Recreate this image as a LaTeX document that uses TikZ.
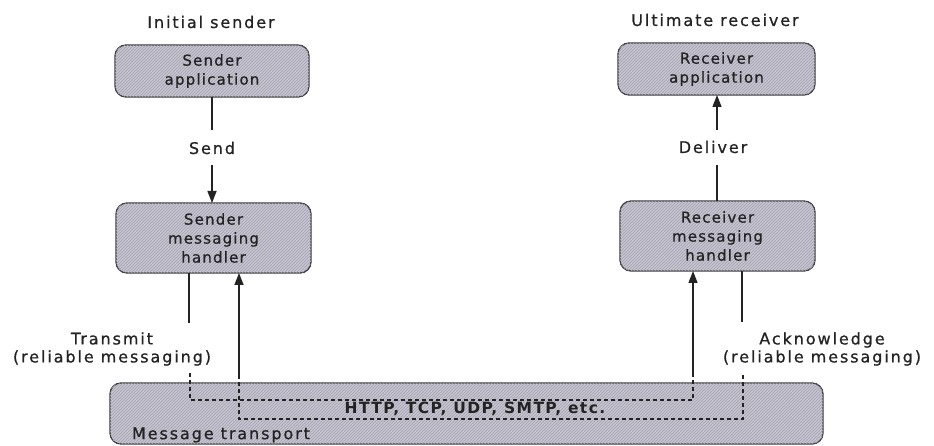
\documentclass[tikz,border=0pt]{standalone}
\usepackage{fontspec}
\setmainfont{DejaVu Sans}[LetterSpace=12, FakeBold=0.8]
\newfontfamily\boxfont{DejaVu Sans}[LetterSpace=8, FakeBold=0.8]
\newfontfamily\protofont{DejaVu Sans Bold}[LetterSpace=9]
\usetikzlibrary{arrows.meta,patterns}
\definecolor{boxfill}{RGB}{198,196,208}
\definecolor{hatch}{RGB}{165,163,175}
\definecolor{edge}{RGB}{60,60,65}
\definecolor{ink}{RGB}{35,35,35}
\begin{document}
\begin{tikzpicture}[x=1pt,y=-1pt,
  every node/.style={text=ink},
  txt/.style={font=\fontsize{16}{18}\selectfont, align=center, inner sep=1pt},
  box/.style={draw=edge, line width=1.3pt, rounded corners=11pt, fill=boxfill,
    postaction={pattern=north east lines, pattern color=hatch},
    font=\boxfont\fontsize{15}{19}\selectfont, align=center, inner sep=0pt},
  conn/.style={draw=ink, line width=1.4pt},
  arr/.style={conn, -{Triangle[length=12pt,width=9pt]}},
  dsh/.style={draw=ink, line width=1.2pt, dash pattern=on 4pt off 3pt}]
\useasboundingbox (0,0) rectangle (934,446);
\fill[white] (0,0) rectangle (934,446);

% boxes
\node[box, minimum width=194pt, minimum height=52pt] (sapp) at (212,71) {Sender\\application};
\node[box, minimum width=197pt, minimum height=52pt] (rapp) at (716.5,69) {Receiver\\application};
\node[box, minimum width=195pt, minimum height=70pt] (shand) at (213.5,238) {Sender\\messaging\\handler};
\node[box, minimum width=195pt, minimum height=70pt] (rhand) at (717.5,236) {Receiver\\messaging\\handler};
\node[box, minimum width=713pt, minimum height=61pt] (trans) at (466.5,413.5) {};

% headings
\node[txt] (ini) at (211,22) {Initial sender};
\node[txt] (ult) at (715,20) {Ultimate receiver};

% Send / Deliver
\coordinate (sendtop) at (212,97);
\coordinate (sendbot) at (212,203);
\draw[conn] (sendtop) -- (212,130);
\draw[arr] (212,165) -- (sendbot);
\node[txt] (send) at (212,148) {Send};

\coordinate (delbot) at (717,201);
\coordinate (deltop) at (717,95);
\draw[conn] (delbot) -- (717,165);
\draw[arr] (717,130) -- (deltop);
\node[txt] (deliver) at (713,147) {Deliver};

% Transmit path
\coordinate (t0) at (189,273);
\coordinate (t1) at (189,323);
\coordinate (t2) at (190,373);
\coordinate (t3) at (190,400);
\coordinate (t4) at (693,400);
\coordinate (t5) at (693,375);
\coordinate (t6) at (693,271);
\draw[conn] (t0) -- (t1);
\draw[dsh] (t2) -- (t3) -- (t4) -- (t5);
\draw[arr] (t5) -- (t6);

% Acknowledge path
\coordinate (a0) at (742,271);
\coordinate (a1) at (742,322);
\coordinate (a2) at (743,375);
\coordinate (a3) at (743,419);
\coordinate (a4) at (239,419);
\coordinate (a5) at (239,377);
\coordinate (a6) at (239,273);
\draw[conn] (a0) -- (a1);
\draw[dsh] (a2) -- (a3) -- (a4) -- (a5);
\draw[arr] (a5) -- (a6);

% labels
\node[txt] (tlab) at (112,349) {Transmit\\(reliable messaging)};
\node[txt] (alab) at (822,349) {Acknowledge\\(reliable messaging)};
\node[txt, font=\protofont\fontsize{15.5}{18}\selectfont] (proto) at (475,409) {HTTP, TCP, UDP, SMTP, etc.};
\node[txt] (mt) at (221,435) {Message transport};
\end{tikzpicture}
\end{document}
